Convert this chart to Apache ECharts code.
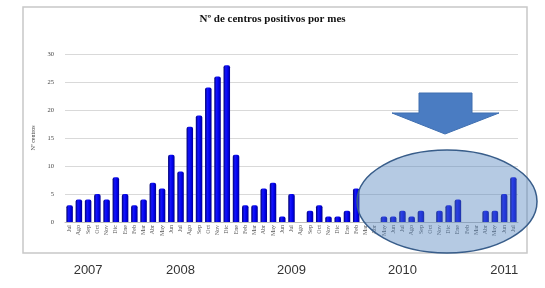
<!DOCTYPE html>
<html>
<head>
<meta charset="utf-8">
<script src="https://cdn.jsdelivr.net/npm/echarts@6/dist/echarts.min.js"></script>
<style>
  html, body { margin: 0; padding: 0; background: #fff; }
  #chart { width: 545px; height: 288px; }
</style>
</head>
<body>
<div id="chart"></div>
<script>
// meses jul 2007 - jul 2011
const months = [
  'Jul', 'Ago', 'Sep', 'Oct', 'Nov', 'Dic',
  'Ene', 'Feb', 'Mar', 'Abr', 'May', 'Jun', 'Jul', 'Ago', 'Sep', 'Oct', 'Nov', 'Dic',
  'Ene', 'Feb', 'Mar', 'Abr', 'May', 'Jun', 'Jul', 'Ago', 'Sep', 'Oct', 'Nov', 'Dic',
  'Ene', 'Feb', 'Mar', 'Abr', 'May', 'Jun', 'Jul', 'Ago', 'Sep', 'Oct', 'Nov', 'Dic',
  'Ene', 'Feb', 'Mar', 'Abr', 'May', 'Jun', 'Jul'
]
const centros = [
  3, 4, 4, 5, 4, 8,
  5, 3, 4, 7, 6, 12, 9, 17, 19, 24, 26, 28,
  12, 3, 3, 6, 7, 1, 5, 0, 2, 3, 1, 1,
  2, 6, 0, 0, 1, 1, 2, 1, 2, 0, 2, 3,
  4, 0, 0, 2, 2, 5, 8
]
const years = ['2007', '2008', '2009', '2010', '2011']
const yearAt = [2, 12, 24, 36, 47] // month index under which each year is written

const yearRow = months.map(() => '')
yearAt.forEach((idx, i) => { yearRow[idx] = years[i] })

const chart = echarts.init(document.getElementById('chart'))

const barColor = new echarts.graphic.LinearGradient(0, 0, 1, 0, [
  { offset: 0, color: '#00006e' },
  { offset: 0.35, color: '#1414ff' },
  { offset: 0.7, color: '#0000e8' },
  { offset: 1, color: '#00008a' }
])

const option = {
  animation: false,
  title: {
    text: 'Nº de centros positivos por mes',
    left: 'center',
    top: 9,
    textStyle: { fontFamily: 'Liberation Serif', fontWeight: 'bold', fontSize: 11, color: '#111' }
  },
  grid: { left: 65, right: 27, top: 54, bottom: 66 },
  xAxis: [
    {
      type: 'category',
      data: months,
      axisTick: { show: false },
      axisLine: { lineStyle: { color: '#bdbdbd' } },
      axisLabel: {
        interval: 0,
        rotate: 90,
        margin: 3,
        fontSize: 6,
        fontFamily: 'Liberation Serif',
        color: '#555'
      }
    },
    {
      type: 'category',
      data: yearRow,
      position: 'bottom',
      offset: 40,
      axisLine: { show: false },
      axisTick: { show: false },
      axisLabel: {
        interval: 0,
        margin: 2,
        fontSize: 13,
        fontFamily: 'Liberation Sans',
        color: '#333'
      }
    }
  ],
  yAxis: {
    type: 'value',
    min: 0,
    max: 30,
    interval: 5,
    name: 'Nº centros',
    nameLocation: 'middle',
    nameGap: 21,
    nameTextStyle: { fontFamily: 'Liberation Serif', fontSize: 6, color: '#444' },
    axisLine: { show: false },
    axisTick: { show: false },
    axisLabel: { fontFamily: 'Liberation Serif', fontSize: 6.5, color: '#444', margin: 11 },
    splitLine: { lineStyle: { color: '#d9d9d9' } }
  },
  series: [
    {
      type: 'bar',
      xAxisIndex: 0,
      data: centros,
      barWidth: 6.5,
      itemStyle: { color: barColor, borderRadius: [2, 2, 0, 0] }
    }
  ],
  graphic: [
    // marco de la diapositiva
    {
      type: 'rect',
      z: -1,
      shape: { x: 23, y: 7, width: 504, height: 246 },
      style: { fill: 'none', stroke: '#c8c8c8', lineWidth: 1.5 }
    },
    // elipse resaltando 2010-2011
    {
      type: 'ellipse',
      z: 100,
      shape: { cx: 447, cy: 201.5, rx: 90, ry: 51.5 },
      style: { fill: 'rgba(79,129,189,0.42)', stroke: '#385d8a', lineWidth: 1.5 }
    },
    // flecha hacia abajo
    {
      type: 'polygon',
      z: 100,
      shape: {
        points: [[419, 93], [472, 93], [472, 113], [499, 113], [445, 134], [392, 113], [419, 113]]
      },
      style: { fill: '#4a7cc2', stroke: '#3f6fb0', lineWidth: 1 }
    }
  ]
}
chart.setOption(option)
</script>
</body>
</html>
